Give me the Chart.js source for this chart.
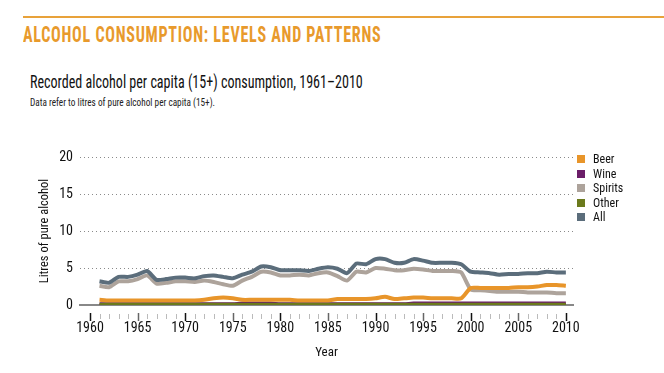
<!DOCTYPE html>
<html lang="en">
<head>
<meta charset="UTF-8">
<title>Recorded alcohol per capita consumption</title>
<script src="https://cdn.jsdelivr.net/npm/chart.js"></script>
<style>
  body { margin: 0; background: #fff; font-family: "Roboto Condensed", "Open Sans", sans-serif; }
  #wrap { position: relative; width: 664px; height: 373px; overflow: hidden; }
  #rule { position: absolute; left: 23px; top: 16px; width: 641px; height: 2px; background: #e8a23a; }
  .txt { position: absolute; white-space: nowrap; transform-origin: left top; }
  #head { left: 23px; top: 22px; font-size: 22px; font-weight: bold; color: #e89a2c; letter-spacing: 1px; transform: scaleX(0.73); }
  #sub { left: 30px; top: 70px; font-size: 19px; color: #111; transform: scaleX(0.74); }
  #note { left: 30px; top: 96px; font-size: 11px; color: #222; transform: scaleX(0.84); }
  #legend { position: absolute; left: 577px; top: 152px; font-size: 12px; color: #111; }
  .item { height: 14.5px; line-height: 14px; position: relative; }
  .item span.box { position: absolute; left: 0; top: 3px; width: 8px; height: 8px; }
  .item span.lab { position: absolute; left: 16px; top: 0; }
  canvas { position: absolute; left: 0; top: 0; }
</style>
</head>
<body>
<div id="wrap">
  <div id="rule"></div>
  <div class="txt" id="head">ALCOHOL CONSUMPTION: LEVELS AND PATTERNS</div>
  <div class="txt" id="sub">Recorded alcohol per capita (15+) consumption, 1961–2010</div>
  <div class="txt" id="note">Data refer to litres of pure alcohol per capita (15+).</div>
  <canvas id="grafico" width="664" height="373"></canvas>
  <div id="legend"></div>
</div>

<script>
  // anos 1961-2010
  const anos = [];
  for (let a = 1961; a <= 2010; a++) anos.push(a);

  const beer = [0.7, 0.6, 0.6, 0.6, 0.6, 0.6, 0.6, 0.6, 0.6, 0.6,
                0.6, 0.7, 0.9, 1.0, 0.9, 0.7, 0.7, 0.7, 0.7, 0.7,
                0.7, 0.6, 0.6, 0.6, 0.6, 0.8, 0.8, 0.8, 0.8, 0.9,
                1.1, 0.8, 0.9, 1.0, 1.0, 0.9, 0.9, 0.9, 0.9, 2.3,
                2.3, 2.3, 2.3, 2.3, 2.4, 2.4, 2.5, 2.7, 2.7, 2.6];
  const wine = [0.1, 0.1, 0.1, 0.1, 0.1, 0.1, 0.1, 0.1, 0.1, 0.1,
                0.1, 0.1, 0.1, 0.1, 0.1, 0.2, 0.2, 0.2, 0.2, 0.1,
                0.1, 0.1, 0.1, 0.1, 0.1, 0.1, 0.1, 0.1, 0.1, 0.1,
                0.1, 0.1, 0.1, 0.2, 0.2, 0.2, 0.2, 0.2, 0.2, 0.2,
                0.2, 0.2, 0.2, 0.2, 0.2, 0.2, 0.2, 0.2, 0.2, 0.2];
  const spirits = [2.6, 2.4, 3.2, 3.2, 3.5, 4.0, 2.9, 3.0, 3.2, 3.2,
                   3.1, 3.3, 3.1, 2.8, 2.6, 3.3, 3.8, 4.5, 4.4, 4.0,
                   4.0, 4.1, 4.0, 4.3, 4.4, 3.9, 3.3, 4.5, 4.4, 5.0,
                   4.9, 4.7, 4.7, 4.9, 4.8, 4.6, 4.6, 4.6, 4.4, 2.1,
                   2.0, 1.9, 1.8, 1.8, 1.8, 1.7, 1.7, 1.7, 1.6, 1.6];
  const other = [0.05, 0.05, 0.05, 0.05, 0.05, 0.05, 0.05, 0.05, 0.05, 0.05,
                 0.05, 0.05, 0.05, 0.05, 0.05, 0.05, 0.05, 0.05, 0.05, 0.05,
                 0.05, 0.05, 0.05, 0.05, 0.05, 0.05, 0.05, 0.05, 0.05, 0.05,
                 0.05, 0.05, 0.05, 0.05, 0.05, 0.05, 0.05, 0.05, 0.05, 0.05,
                 0.05, 0.05, 0.05, 0.05, 0.05, 0.05, 0.05, 0.05, 0.05, 0.05];
  const all = [3.2, 3.0, 3.8, 3.8, 4.1, 4.6, 3.4, 3.5, 3.7, 3.7,
               3.6, 3.9, 4.0, 3.8, 3.6, 4.1, 4.5, 5.2, 5.1, 4.7,
               4.7, 4.7, 4.6, 4.9, 5.1, 4.9, 4.3, 5.6, 5.5, 6.2,
               6.2, 5.7, 5.7, 6.2, 6.0, 5.7, 5.7, 5.7, 5.5, 4.5,
               4.4, 4.3, 4.1, 4.2, 4.2, 4.3, 4.3, 4.5, 4.4, 4.4];

  const yTicks = [0, 5, 10, 15, 20];
  const xTicks = [1960, 1965, 1970, 1975, 1980, 1985, 1990, 1995, 2000, 2005, 2010];

  const series = [
    { nome: 'Beer', dados: beer, cor: '#e8952a', ordem: 2 },
    { nome: 'Wine', dados: wine, cor: '#6b1d68', ordem: 4 },
    { nome: 'Spirits', dados: spirits, cor: '#ada39b', ordem: 3 },
    { nome: 'Other', dados: other, cor: '#6b7a1c', ordem: 1 },
    { nome: 'All', dados: all, cor: '#5b6d7b', ordem: 0 }
  ];

  // legenda em HTML
  const legenda = document.getElementById('legend');
  series.forEach(s => {
    legenda.innerHTML += '<div class="item"><span class="box" style="background:' + s.cor + '"></span><span class="lab">' + s.nome + '</span></div>';
  });

  // marcas do eixo x (anos)
  const marcasAnos = {
    id: 'marcasAnos',
    afterDraw(chart) {
      const ctx = chart.ctx;
      const x = chart.scales.x;
      const base = chart.chartArea.bottom;
      ctx.save();
      for (let a = 1960; a <= 2010; a++) {
        const px = Math.round(x.getPixelForValue(a)) + 0.5;
        const maior = a % 5 === 0;
        ctx.strokeStyle = maior ? (a % 10 === 0 ? '#111' : '#666') : '#bbb';
        ctx.lineWidth = maior ? 1.5 : 1;
        ctx.beginPath();
        ctx.moveTo(px, base + (maior ? 8 : 9));
        ctx.lineTo(px, base + (maior ? 16 : 14));
        ctx.stroke();
      }
      ctx.restore();
    }
  };

  const fonte = "'Roboto Condensed', 'Open Sans', sans-serif";

  new Chart(document.getElementById('grafico'), {
    type: 'line',
    data: {
      datasets: series.map(s => ({
        label: s.nome,
        data: anos.map((a, i) => ({ x: a, y: s.dados[i] })),
        borderColor: s.cor,
        backgroundColor: s.cor,
        borderWidth: 4,
        pointRadius: 0,
        tension: 0.2,
        order: s.ordem
      }))
    },
    options: {
      responsive: false,
      animation: false,
      layout: { padding: { left: 32, right: 91, top: 157, bottom: 0 } },
      plugins: { legend: { display: false }, tooltip: { enabled: false } },
      scales: {
        x: {
          type: 'linear',
          min: 1958.95,
          max: 2010.75,
          afterFit(scale) { scale.height = 68; },
          afterBuildTicks(scale) { scale.ticks = xTicks.map(v => ({ value: v })); },
          ticks: {
            color: '#111',
            font: { family: fonte, size: 14 },
            padding: 15,
            maxRotation: 0,
            callback: v => String(v)
          },
          grid: { display: false, drawTicks: false },
          border: { display: true, color: '#888', width: 2 },
          title: {
            display: true,
            text: 'Year',
            color: '#111',
            font: { family: fonte, size: 13 },
            padding: { top: 0, bottom: 12 }
          }
        },
        y: {
          min: 0,
          max: 20,
          afterFit(scale) { scale.width = 48; },
          afterBuildTicks(scale) { scale.ticks = yTicks.map(v => ({ value: v })); },
          ticks: {
            color: '#111',
            font: { family: fonte, size: 14 },
            padding: 7
          },
          grid: {
            drawTicks: false,
            color: ctx => ctx.tick && ctx.tick.value === 0 ? 'rgba(0,0,0,0)' : '#8a8a8a',
            lineWidth: 1
          },
          border: { display: false, dash: [1, 3] },
          title: {
            display: true,
            text: 'Litres of pure alcohol',
            color: '#111',
            font: { family: fonte, size: 12.5 },
            padding: { top: 5, bottom: 0 }
          }
        }
      }
    },
    plugins: [marcasAnos]
  });
</script>
</body>
</html>
